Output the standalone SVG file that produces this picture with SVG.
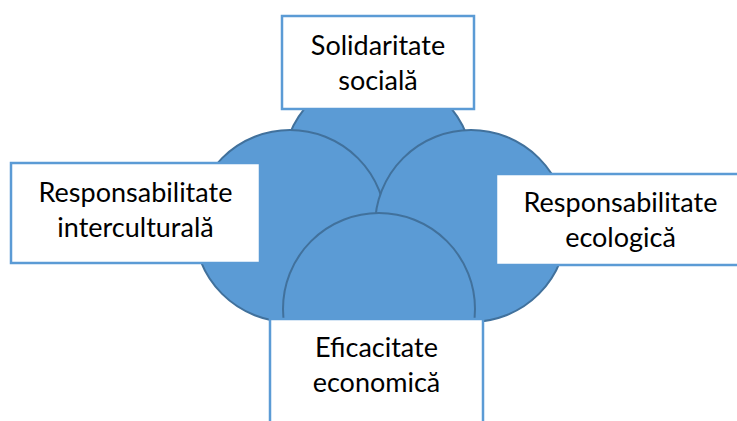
<svg xmlns="http://www.w3.org/2000/svg" width="737" height="421" viewBox="0 0 737 421">
<style>
.c{fill:#5B9BD5;stroke:#41719C;stroke-width:2}
.b{fill:#FFFFFF;stroke:#5B9BD5;stroke-width:2.5}
.t{font-family:Lato,"Open Sans","Liberation Sans",sans-serif;font-size:27px;fill:#000000;text-anchor:middle}
</style>
<rect width="737" height="421" fill="#FFFFFF"/>
<g id="circles">
<circle id="c-top" class="c" cx="378" cy="169" r="95"/>
<circle id="c-left" class="c" cx="290" cy="226" r="96"/>
<circle id="c-right" class="c" cx="471" cy="226" r="96"/>
<circle id="c-bottom" class="c" cx="379" cy="309" r="96"/>
</g>
<g id="connectors"></g>
<g id="n-top">
<rect class="b" x="282" y="16" width="192" height="93"/>
<text class="t" x="378" y="55">Solidaritate</text>
<text class="t" x="378" y="90">socială</text>
</g>
<g id="n-left">
<rect class="b" x="11" y="163" width="249" height="100"/>
<text class="t" x="135.5" y="202">Responsabilitate</text>
<text class="t" x="135.5" y="237">interculturală</text>
</g>
<g id="n-right">
<rect class="b" x="496" y="174" width="250" height="91"/>
<text class="t" x="620.5" y="212">Responsabilitate</text>
<text class="t" x="620.5" y="247">ecologică</text>
</g>
<g id="n-bottom">
<rect class="b" x="270" y="319" width="213" height="120"/>
<text class="t" x="376.5" y="357">Eficacitate</text>
<text class="t" x="376.5" y="392">economică</text>
</g>
</svg>
